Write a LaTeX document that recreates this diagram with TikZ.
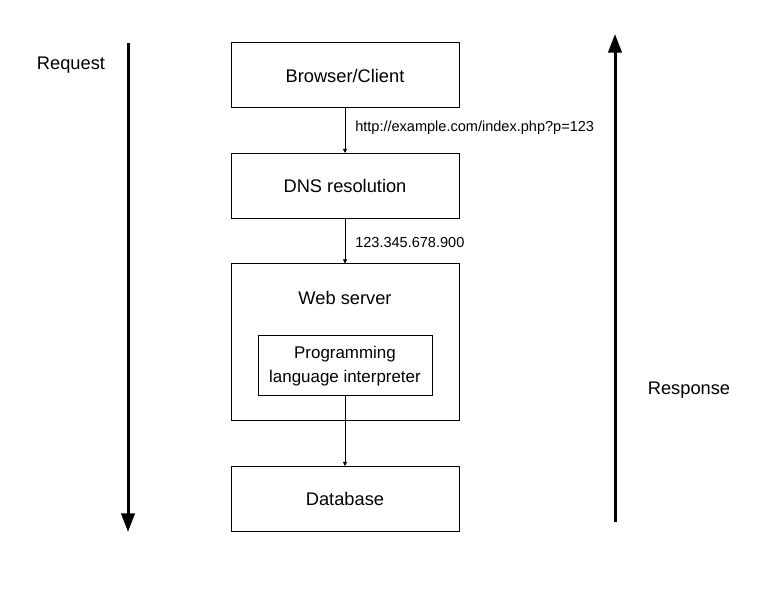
\documentclass[tikz,border=0pt]{standalone}
\usepackage{fontspec}
\setmainfont{Liberation Sans}
\usetikzlibrary{arrows.meta}

\begin{document}
\begin{tikzpicture}[x=0.75pt, y=-0.75pt,
    box/.style={draw, line width=0.75pt, inner sep=0pt, minimum width=171pt, minimum height=48.75pt, font=\fontsize{13.7}{16}\selectfont},
    tag/.style={anchor=west, inner sep=0pt, font=\fontsize{10.9}{13}\selectfont},
    flow/.style={line width=0.75pt, -{Triangle[length=3pt, width=3pt]}},
    bigarrow/.style={line width=2.25pt, -{Triangle[length=14pt, width=10pt]}}]
    % Frame
    \useasboundingbox (0,0) rectangle (776,599);

    % Boxes
    \node [box] (client) at (345,75.5) {Browser/Client};
    \node [box] (dns) at (345,186) {DNS resolution};
    \node [box, minimum height=117.75pt] (web) at (345,342.5) {};
    \node [font=\fontsize{13.7}{16}\selectfont, inner sep=0pt] (webtitle) at (345,298) {Web server};
    \node [box, minimum width=130.5pt, minimum height=45pt, align=center, font=\fontsize{12.7}{18}\selectfont] (interp) at (345,366) {Programming\\language interpreter};
    \node [box] (db) at (345,499) {Database};

    % Connectors
    \draw [flow] (client) -- (dns);
    \draw [flow] (dns) -- (web);
    \draw [flow] (interp) -- (db);
    \node [tag] (url) at (355,128) {http://example.com/index.php?p=123};
    \node [tag] (ip) at (355,242) {123.345.678.900};

    % Request and response
    \coordinate (reqtop) at (128,43);
    \coordinate (reqend) at (128,532);
    \coordinate (resbot) at (615,522);
    \coordinate (restop) at (615,34);
    \draw [bigarrow] (reqtop) -- (reqend);
    \draw [bigarrow] (resbot) -- (restop);
    \node [font=\fontsize{13.7}{16}\selectfont] (req) at (71,65) {Request};
    \node [font=\fontsize{13.7}{16}\selectfont] (res) at (689,390) {Response};
\end{tikzpicture}
\end{document}
